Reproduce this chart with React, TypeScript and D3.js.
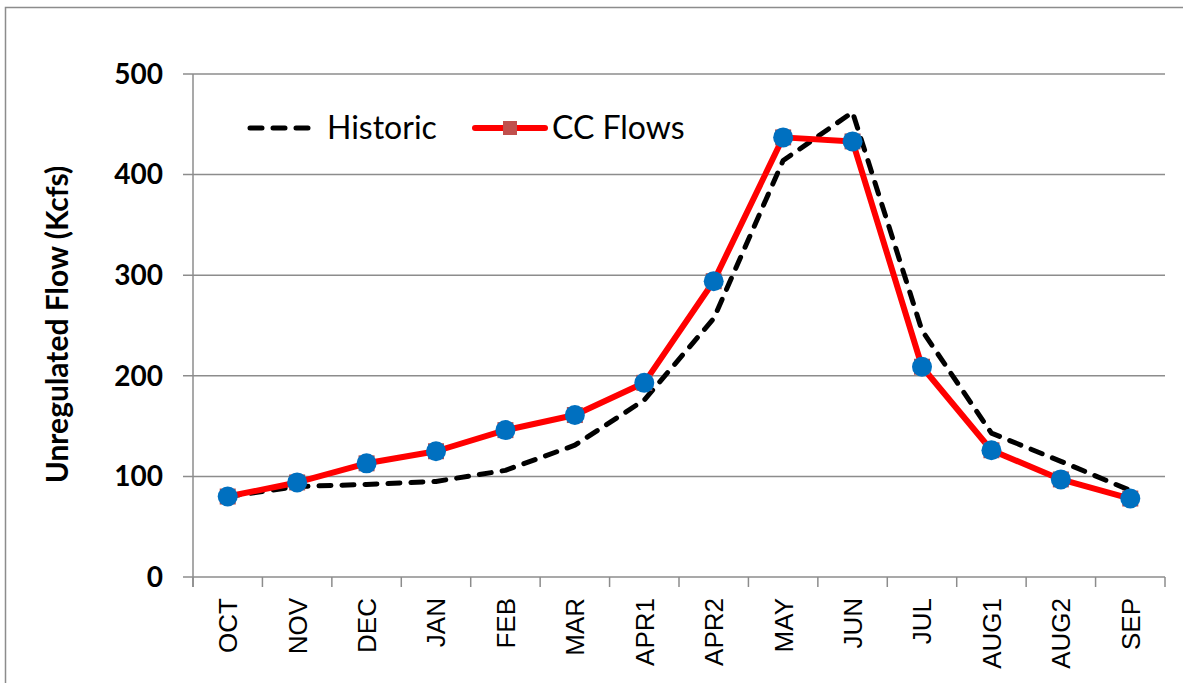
import React from 'react';
import * as d3 from 'd3';

const months = ['OCT', 'NOV', 'DEC', 'JAN', 'FEB', 'MAR', 'APR1', 'APR2', 'MAY', 'JUN', 'JUL', 'AUG1', 'AUG2', 'SEP'];
const historic = [80, 90, 92, 95, 106, 131, 176, 257, 414, 462, 245, 143, 115, 86];
const ccFlows = [80, 94, 113, 125, 146, 161, 193, 294, 437, 433, 209, 126, 97, 78];
const yTicks = [0, 100, 200, 300, 400, 500];

const W = 1183;
const H = 683;
const left = 193;
const right = 1165;
const top = 74;
const bottom = 577;

const App: React.FC = () => {
  const x = d3.scaleBand<string>().domain(months).range([left, right]).padding(0);
  const y = d3.scaleLinear().domain([0, 500]).range([bottom, top]);
  const cx = (m: string) => (x(m) ?? 0) + x.bandwidth() / 2;

  const line = d3
    .line<number>()
    .x((_, i) => cx(months[i]))
    .y((d) => y(d));

  const bounds = months.map((m) => x(m) ?? 0).concat([right]);
  const grey = '#8c8c8c';

  return (
    <svg
      width={W}
      height={H}
      style={{ position: 'absolute', left: 0, top: 0, background: '#fff' }}
    >
      <rect x={5.5} y={7.5} width={W + 20} height={H + 20} fill="#fff" stroke={grey} strokeWidth={1.5} />

      {/* gridlines and y ticks */}
      {yTicks.map((t) => (
        <g key={t}>
          <line x1={left - 10} x2={right} y1={y(t)} y2={y(t)} stroke={grey} strokeWidth={1.5} />
          <text
            x={163}
            y={y(t)}
            dy="0.35em"
            textAnchor="end"
            fontFamily="Lato, 'Open Sans', sans-serif"
            fontWeight="bold"
            fontSize={28}
          >
            {t}
          </text>
        </g>
      ))}

      {/* axes */}
      <line x1={left} x2={left} y1={top} y2={bottom + 10} stroke={grey} strokeWidth={1.5} />
      {bounds.map((b, i) => (
        <line key={i} x1={b} x2={b} y1={bottom} y2={bottom + 10} stroke={grey} strokeWidth={1.5} />
      ))}

      {months.map((m) => (
        <text
          key={m}
          transform={`translate(${cx(m)},598) rotate(-90)`}
          dy="0.36em"
          textAnchor="end"
          fontFamily="'Liberation Sans', Arial, sans-serif"
          fontSize={26}
        >
          {m}
        </text>
      ))}

      <text
        transform={`translate(57,${(top + bottom) / 2 - 1}) rotate(-90)`}
        dy="0.35em"
        textAnchor="middle"
        fontFamily="Lato, 'Open Sans', sans-serif"
        fontWeight="bold"
        fontSize={30}
      >
        Unregulated Flow (Kcfs)
      </text>

      {/* series */}
      <path
        d={line(historic) ?? ''}
        fill="none"
        stroke="#000"
        strokeWidth={5}
        strokeDasharray="12,11"
        strokeLinecap="round"
        strokeLinejoin="round"
      />
      <path d={line(ccFlows) ?? ''} fill="none" stroke="#ff0000" strokeWidth={6} strokeLinejoin="round" />
      {ccFlows.map((v, i) => (
        <rect key={`s${i}`} x={cx(months[i]) - 8} y={y(v) - 8} width={16} height={16} fill="#c0504d" />
      ))}
      {ccFlows.map((v, i) => (
        <circle key={`c${i}`} cx={cx(months[i])} cy={y(v)} r={10} fill="#0070c0" />
      ))}

      {/* legend */}
      <line
        x1={250}
        x2={310}
        y1={128}
        y2={128}
        stroke="#000"
        strokeWidth={5}
        strokeDasharray="12,11"
        strokeLinecap="round"
      />
      <text x={327} y={128} dy="0.35em" fontFamily="Lato, 'Open Sans', sans-serif" fontSize={32}>
        Historic
      </text>
      <line x1={475} x2={545} y1={128} y2={128} stroke="#ff0000" strokeWidth={6} strokeLinecap="round" />
      <rect x={503} y={121} width={14} height={14} fill="#c0504d" />
      <text x={552} y={128} dy="0.35em" fontFamily="Lato, 'Open Sans', sans-serif" fontSize={32}>
        CC Flows
      </text>
    </svg>
  );
};

export default App;
